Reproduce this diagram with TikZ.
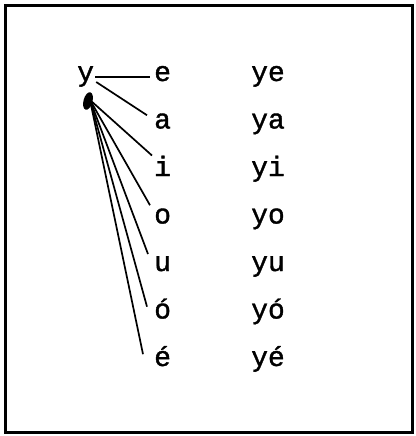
\documentclass[tikz,border=0pt]{standalone}
\usepackage{fontspec}
\newfontfamily\tw[FakeBold=1.3]{Liberation Mono}
\usetikzlibrary{calc}
\begin{document}
\begin{tikzpicture}[x=1pt,y=-1pt,
  lt/.style={font=\tw\fontsize{28}{28}\selectfont, inner sep=0pt, anchor=base west},
  spoke/.style={line width=1.7pt},
  frame/.style={line width=3pt}]
\useasboundingbox (0,0) rectangle (415,436);
\draw[frame] (5,6) rectangle (412,432);
\node[lt] (Y) at (77,81) {y};
\foreach \n/\t/\k in {ve/e/0, va/a/1, vi/i/2, vo/o/3, vu/u/4, voa/ó/5, vea/é/6}{
  \node[lt] (\n) at (154,81+47.5*\k) {\t};
  \node[lt] (r\n) at (251,81+47.5*\k) {y\t};
}
\coordinate (hub) at (90,100);
\fill[rotate around={-15:(88,101)}] (88,101) ellipse (4.5 and 9);
\draw[line width=2.6pt] ($(Y.base east)+(1,-4)$) -- ($(ve.base west)+(-4,-4)$);
\draw[spoke] ($(Y.base east)+(2,1)$) -- ($(va.north west)+(-7,2)$);
\draw[spoke] (hub) -- ($(vi.north west)+(-2,0)$);
\draw[spoke] (hub) -- ($(vo.north west)+(-4,-3)$);
\draw[spoke] (hub) -- ($(vu.north west)+(-6,-2)$);
\draw[spoke] (hub) -- ($(voa.west)+(-7,-2)$);
\draw[spoke] (hub) -- ($(vea.west)+(-11,-2)$);
\end{tikzpicture}
\end{document}
